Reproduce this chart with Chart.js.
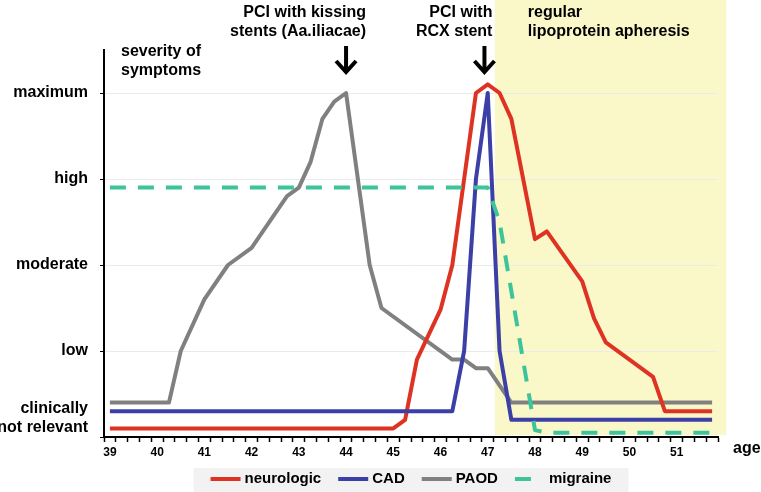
<!DOCTYPE html>
<html>
<head>
<meta charset="utf-8">
<script src="https://cdn.jsdelivr.net/npm/chart.js@4.4.0/dist/chart.umd.min.js"></script>
<style>
  html, body { margin: 0; padding: 0; background: #fff; }
  canvas { display: block; }
</style>
</head>
<body>
<canvas id="chart" width="761" height="492"></canvas>
<script>
// severity levels, bottom to top
const severityLevels = [['clinically', 'not relevant'], ['low'], ['moderate'], ['high'], ['maximum']];

// age (years) and severity (0 = clinically not relevant ... 4 = maximum)
const neurologicAge = [39, 45, 45.25, 45.5, 46, 46.25, 46.75, 47, 47.25, 47.5, 48, 48.25, 49, 49.25, 49.5, 50.5, 50.75, 51.75];
const neurologicVal = [0.1, 0.1, 0.2, 0.9, 1.48, 2.0, 4.0, 4.1, 4.0, 3.7, 2.3, 2.39, 1.81, 1.38, 1.1, 0.7, 0.3, 0.3];

const cadAge = [39, 46.25, 46.5, 46.75, 47, 47.25, 47.5, 51.75];
const cadVal = [0.3, 0.3, 1.0, 3.0, 4.0, 1.0, 0.2, 0.2];

const paodAge = [39, 40.25, 40.5, 41, 41.5, 42, 42.75, 43, 43.25, 43.5, 43.75, 44, 44.5, 44.75, 46.25, 46.5, 46.75, 47, 47.5, 51.75];
const paodVal = [0.4, 0.4, 1.0, 1.6, 2.0, 2.2, 2.8, 2.9, 3.2, 3.7, 3.9, 4.0, 2.0, 1.5, 0.9, 0.9, 0.8, 0.8, 0.4, 0.4];

const migraineAge = [39, 47, 47.25, 48, 48.25, 51.75];
const migraineVal = [2.9, 2.9, 2.5, 0.08, 0.05, 0.05];

// events
const interventions = [
    { age: 44, lines: ['PCI with kissing', 'stents (Aa.iliacae)'] },
    { age: 46.93, lines: ['PCI with', 'RCX stent'] }
];
const apheresisSpan = [47.15, 52.05];
const apheresisLines = ['regular', 'lipoprotein apheresis'];
const yTitleLines = ['severity of', 'symptoms'];
const xTitle = 'age';

const FONT = '"Liberation Sans", Arial, sans-serif';
Chart.defaults.font.family = FONT;
Chart.defaults.color = '#000';

const toPoints = (xs, ys) => xs.map((x, i) => ({ x: x, y: ys[i] }));

const decor = {
    id: 'decor',
    beforeDraw(chart) {
        const { ctx, chartArea, scales: { x } } = chart;
        const x0 = x.getPixelForValue(apheresisSpan[0]);
        const x1 = x.getPixelForValue(apheresisSpan[1]);
        ctx.save();
        ctx.fillStyle = '#faf7c9';
        ctx.fillRect(x0, 0, x1 - x0, chartArea.bottom - 2);
        ctx.restore();
    },
    afterDraw(chart) {
        const { ctx, chartArea, scales: { x } } = chart;
        ctx.save();
        ctx.fillStyle = '#000';
        ctx.strokeStyle = '#000';
        ctx.textBaseline = 'middle';
        ctx.font = 'bold 16px ' + FONT;

        // intervention notes + arrows
        const textDx = [20, 8];
        interventions.forEach((ev, i) => {
            const px = x.getPixelForValue(ev.age);
            ctx.textAlign = 'right';
            ev.lines.forEach((l, j) => ctx.fillText(l, px + textDx[i], 13 + j * 19));
            ctx.lineWidth = 4;
            ctx.lineJoin = 'miter';
            ctx.beginPath();
            ctx.moveTo(px, 46);
            ctx.lineTo(px, 72);
            ctx.stroke();
            ctx.beginPath();
            ctx.moveTo(px - 10, 61);
            ctx.lineTo(px, 72);
            ctx.lineTo(px + 10, 61);
            ctx.stroke();
        });

        // apheresis note
        ctx.textAlign = 'left';
        const ax = x.getPixelForValue(apheresisSpan[0]) + 33;
        apheresisLines.forEach((l, j) => ctx.fillText(l, ax, 13 + j * 19));

        // y title
        yTitleLines.forEach((l, j) => ctx.fillText(l, chartArea.left + 17, 52 + j * 19));

        // x title
        ctx.fillText(xTitle, chartArea.right + 15, chartArea.bottom + 12);

        // legend
        ctx.font = 'bold 15px ' + FONT;
        const items = chart.data.datasets.map(ds => ({
            label: ds.label, color: ds.borderColor, dashed: !!ds.borderDash,
            w: ctx.measureText(ds.label).width
        }));
        const sw = 30, gap = 4, itemGap = 17, pad = 17;
        const total = items.reduce((s, it) => s + sw + gap + it.w, 0) + itemGap * (items.length - 1);
        const cx = (chartArea.left + chartArea.right) / 2;
        const boxL = cx - total / 2 - pad;
        ctx.fillStyle = '#f2f2f2';
        ctx.fillRect(boxL, 468, total + 2 * pad, 26);
        let lx = boxL + pad;
        const ly = 479;
        items.forEach(it => {
            ctx.strokeStyle = it.color;
            ctx.lineWidth = 4;
            ctx.beginPath();
            ctx.moveTo(lx, ly);
            ctx.lineTo(lx + (it.dashed ? 16 : sw), ly);
            ctx.stroke();
            ctx.fillStyle = '#000';
            ctx.fillText(it.label, lx + sw + gap, ly);
            lx += sw + gap + it.w + itemGap;
        });
        ctx.restore();
    }
};

const lineStyle = { borderWidth: 4, pointRadius: 0, tension: 0, fill: false, borderJoinStyle: 'round' };

const chart = new Chart(document.getElementById('chart'), {
    type: 'line',
    data: {
        datasets: [
            Object.assign({ label: 'neurologic', borderColor: '#de3223', data: toPoints(neurologicAge, neurologicVal), order: 3 }, lineStyle),
            Object.assign({ label: 'CAD', borderColor: '#3b3fa6', data: toPoints(cadAge, cadVal), order: 2 }, lineStyle),
            Object.assign({ label: 'PAOD', borderColor: '#808080', data: toPoints(paodAge, paodVal), order: 4 }, lineStyle),
            Object.assign({ label: 'migraine', borderColor: '#3dc49a', borderDash: [16, 12], data: toPoints(migraineAge, migraineVal), order: 1 }, lineStyle)
        ]
    },
    options: {
        responsive: false,
        animation: false,
        layout: { padding: { top: 50, right: 43, left: 0, bottom: 0 } },
        plugins: { legend: { display: false }, tooltip: { enabled: false } },
        scales: {
            x: {
                type: 'linear',
                min: 38.875,
                max: 51.875,
                afterBuildTicks: s => {
                    const t = [];
                    for (let v = 38.875; v <= 51.875 + 1e-9; v += 0.125) t.push({ value: v });
                    s.ticks = t;
                },
                afterFit: s => { s.height = 55; },
                border: { color: '#000', width: 2 },
                grid: {
                    drawOnChartArea: false,
                    tickLength: 5,
                    tickWidth: 1.5,
                    tickColor: c => (c.tick && (c.tick.value * 8) % 2 === 1) ? '#000' : 'rgba(0,0,0,0)'
                },
                ticks: {
                    autoSkip: false,
                    maxRotation: 0,
                    padding: 3,
                    font: { size: 12, weight: 'bold' },
                    callback: v => (Number.isInteger(v) && v >= 39 && v <= 51) ? String(v) : ''
                }
            },
            y: {
                min: 0,
                max: 4.5,
                afterBuildTicks: s => { s.ticks = severityLevels.map((l, i) => ({ value: i })); },
                afterFit: s => { s.width = 104; },
                border: { color: '#000', width: 2 },
                grid: {
                    tickLength: 4,
                    tickColor: '#000',
                    color: c => (c.tick && c.tick.value > 0) ? '#ebebeb' : 'rgba(0,0,0,0)'
                },
                ticks: {
                    padding: 12,
                    font: { size: 16, weight: 'bold' },
                    callback: v => v === 0 ? severityLevels[0].concat(['', '']) : severityLevels[v]
                }
            }
        }
    },
    plugins: [decor]
});
</script>
</body>
</html>
